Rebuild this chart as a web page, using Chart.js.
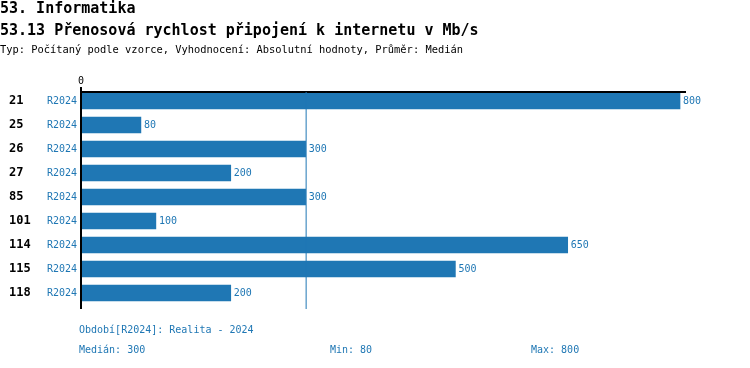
<!DOCTYPE html>
<html>
<head>
<meta charset="utf-8">
<script src="https://cdn.jsdelivr.net/npm/chart.js@4.4.1/dist/chart.umd.min.js"></script>
<style>
  html, body { margin: 0; padding: 0; background: #fff; }
  #wrap { width: 750px; height: 368px; position: relative; }
</style>
</head>
<body>
<div id="wrap"><canvas id="chart" width="750" height="368"></canvas></div>
<script>
const categories = ["21", "25", "26", "27", "85", "101", "114", "115", "118"];
const periods = ["R2024", "R2024", "R2024", "R2024", "R2024", "R2024", "R2024", "R2024", "R2024"];
const values = [800, 80, 300, 200, 300, 100, 650, 500, 200];
const median = 300;
const minVal = 80;
const maxVal = 800;

const blue = "#1f77b4";
const mono = "'DejaVu Sans Mono', monospace";

const decorations = {
  id: "decorations",
  afterDatasetsDraw(chart) {
    const ctx = chart.ctx;
    const x = chart.scales.x;
    const y = chart.scales.y;
    const area = chart.chartArea;
    ctx.save();

    // titles
    ctx.fillStyle = "#000";
    ctx.textBaseline = "middle";
    ctx.textAlign = "left";
    ctx.font = "bold 15px " + mono;
    ctx.fillText("53. Informatika", 0, 9);
    ctx.fillText("53.13 Přenosová rychlost připojení k internetu v Mb/s", 0, 31);
    ctx.font = "10.4px " + mono;
    ctx.fillText("Typ: Počítaný podle vzorce, Vyhodnocení: Absolutní hodnoty, Průměr: Medián", 0, 50);

    // zero tick
    const x0 = x.getPixelForValue(0);
    ctx.font = "10px " + mono;
    ctx.textAlign = "center";
    ctx.fillText("0", x0, 81);

    // axis lines
    ctx.strokeStyle = "#000";
    ctx.lineWidth = 2;
    ctx.beginPath();
    ctx.moveTo(x0, 87);
    ctx.lineTo(x0, 309);
    ctx.stroke();
    ctx.beginPath();
    ctx.moveTo(x0, 92);
    ctx.lineTo(area.right, 92);
    ctx.stroke();

    // median line
    const xm = x.getPixelForValue(median);
    ctx.strokeStyle = blue;
    ctx.lineWidth = 1;
    ctx.beginPath();
    ctx.moveTo(xm + 0.5, 92);
    ctx.lineTo(xm + 0.5, 309);
    ctx.stroke();

    // row labels and values
    categories.forEach((c, i) => {
      const yc = y.getPixelForValue(i);
      ctx.fillStyle = "#000";
      ctx.textAlign = "left";
      ctx.font = "bold 12px " + mono;
      ctx.fillText(c, 9, yc);
      ctx.fillStyle = blue;
      ctx.textAlign = "right";
      ctx.font = "10px " + mono;
      ctx.fillText(periods[i], 77, yc);
      ctx.textAlign = "left";
      ctx.fillText(String(values[i]), x.getPixelForValue(values[i]) + 3, yc);
    });

    // footer
    ctx.fillStyle = blue;
    ctx.textAlign = "left";
    ctx.font = "10px " + mono;
    ctx.fillText("Období[R2024]: Realita - 2024", 79, 330);
    ctx.fillText("Medián: " + median, 79, 350);
    ctx.fillText("Min: " + minVal, 330, 350);
    ctx.fillText("Max: " + maxVal, 531, 350);
    ctx.restore();
  }
};

new Chart(document.getElementById("chart"), {
  type: "bar",
  data: {
    labels: categories,
    datasets: [{
      data: values,
      backgroundColor: blue,
      borderWidth: 0,
      barThickness: 16
    }]
  },
  options: {
    indexAxis: "y",
    responsive: false,
    animation: false,
    layout: { padding: { left: 81, top: 89, right: 64, bottom: 63 } },
    plugins: { legend: { display: false }, tooltip: { enabled: false } },
    scales: {
      x: { display: false, min: 0, max: 808 },
      y: { display: false }
    }
  },
  plugins: [decorations]
});
</script>
</body>
</html>
